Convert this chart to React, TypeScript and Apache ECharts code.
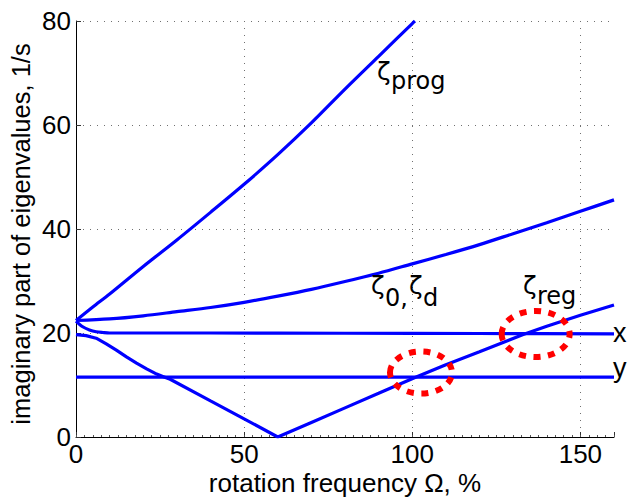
import React, { useEffect, useRef } from 'react';
import * as echarts from 'echarts';

// axis ticks
const xTicks = [0, 50, 100, 150];
const yTicks = [0, 20, 40, 60, 80];

// ζ_prog branch
const omegaProg = [0, 5, 10, 20, 30, 40, 50, 60, 70, 80, 90, 100, 100.8];
const zetaProg = [22.4, 25.0, 27.5, 32.8, 37.9, 43.2, 48.6, 54.3, 60.4, 66.9, 73.2, 79.5, 80];

// ζ_0, ζ_d branch
const omegaD = [0, 10, 20, 30, 40, 50, 60, 70, 80, 90, 100, 110, 120, 130, 140, 150, 160];
const zetaD = [22.4, 22.7, 23.3, 24.1, 24.9, 25.9, 27.1, 28.4, 29.9, 31.5, 33.3, 35.1, 37.0, 39.1, 41.2, 43.4, 45.6];

// x branch
const omegaX = [0, 2, 4, 6, 8, 10, 20, 40, 80, 120, 160];
const zetaX = [22.3, 21.2, 20.6, 20.25, 20.1, 20.0, 20.0, 20.0, 19.95, 19.9, 19.85];

// ζ_reg branch (descending then rising)
const omegaReg = [0, 3, 6, 9, 12, 15, 18, 21, 24, 26, 28, 40, 50, 60, 70, 80, 90, 101, 110, 120, 133, 140, 150, 160];
const zetaReg = [19.7, 19.5, 19.0, 17.9, 16.7, 15.4, 14.2, 13.1, 12.1, 11.6, 11.1, 6.95, 3.5, 0, 2.8, 5.6, 8.4, 11.5, 13.9, 16.4, 19.7, 21.3, 23.4, 25.4];

// y branch
const omegaY = [0, 40, 80, 120, 160];
const zetaY = [11.5, 11.5, 11.5, 11.5, 11.5];

// crossing highlights (data coords)
const crossOmega = [102.6, 136.7];
const crossZeta = [12.4, 19.8];

const SANS = '"Liberation Sans", Arial, Helvetica, sans-serif';
const DJV = '"DejaVu Sans", sans-serif';

function zip(xs: number[], ys: number[]) {
  return xs.map((x, i) => [x, ys[i]]);
}

export default function App() {
  const ref = useRef<HTMLDivElement>(null);
  useEffect(() => {
    const chart = echarts.init(ref.current!, null, { renderer: 'svg' });
    const line = (name: string, data: number[][], smooth: number | boolean) => ({
      type: 'line',
      name,
      data,
      smooth,
      symbol: 'none',
      xAxisIndex: 0,
      yAxisIndex: 0,
      lineStyle: { color: '#0000ff', width: 3.2 },
      z: 3,
    });
    const gridStyle = { color: '#707070', width: 1, type: [1, 6] as any };
    chart.setOption({
      animation: false,
      backgroundColor: '#ffffff',
      grid: { left: 76, right: 15, top: 21, bottom: 62, containLabel: false, outerBoundsMode: 'none' },
      xAxis: [
        {
          type: 'value',
          min: 0,
          max: 160,
          interval: 50,
          name: 'rotation frequency Ω, %',
          nameLocation: 'middle',
          nameGap: 35,
          nameMoveOverlap: false,
          nameTextStyle: { fontFamily: SANS, fontSize: 26, lineHeight: 22, color: '#000' },
          axisLine: { show: true, lineStyle: { color: '#000', width: 1 } },
          axisTick: { show: true, inside: true, length: 5, lineStyle: { color: '#333' } },
          axisLabel: {
            fontFamily: SANS,
            fontSize: 26,
            lineHeight: 22,
            color: '#000',
            margin: 6,
            formatter: (v: number) => (xTicks.includes(v) ? String(v) : ''),
          },
          splitLine: { show: true, showMinLine: false, showMaxLine: false, lineStyle: gridStyle },
        },
        {
          type: 'value',
          min: 0,
          max: 160,
          interval: 2.5,
          position: 'bottom',
          offset: 0,
          axisLine: { show: false },
          axisTick: { show: true, inside: true, length: 2, lineStyle: { color: '#555' } },
          axisLabel: { show: false },
          splitLine: { show: false },
        },
      ],
      yAxis: {
        type: 'value',
        min: 0,
        max: 80,
        interval: 20,
        name: 'imaginary part of eigenvalues, 1/s',
        nameLocation: 'middle',
        nameGap: 42,
        nameMoveOverlap: false,
        nameTextStyle: { fontFamily: SANS, fontSize: 25.5, color: '#000', padding: [0, 10, 0, 0] },
        axisLine: { show: true, lineStyle: { color: '#000', width: 1 } },
        axisTick: { show: true, inside: true, length: 5, lineStyle: { color: '#333' } },
        axisLabel: {
          fontFamily: SANS,
          fontSize: 26,
          color: '#000',
          margin: 5,
          formatter: (v: number) => (yTicks.includes(v) ? String(v) : ''),
        },
        splitLine: { show: true, showMinLine: false, showMaxLine: true, lineStyle: gridStyle },
      },
      series: [
        line('prog', zip(omegaProg, zetaProg), 0.3),
        line('d', zip(omegaD, zetaD), 0.3),
        line('x', zip(omegaX, zetaX), 0.3),
        line('reg', zip(omegaReg, zetaReg), false),
        line('y', zip(omegaY, zetaY), false),
      ],
    });

    const centers = crossOmega.map((o, i) =>
      chart.convertToPixel({ seriesIndex: 0 }, [o, crossZeta[i]]) as number[]
    );
    const radii = [
      [31, 21],
      [34, 23],
    ];
    const ellipses = centers.map((c, i) => ({
      type: 'ellipse',
      shape: { cx: c[0], cy: c[1], rx: radii[i][0], ry: radii[i][1] },
      style: { fill: 'none', stroke: '#ff0000', lineWidth: 6, lineDash: [7, 7.5] },
      z: 10,
    }));
    const t = (text: string, x: number, y: number, size: number, family = DJV) => ({
      type: 'text',
      x,
      y,
      style: { text, font: `${size}px ${family}`, fill: '#000', verticalAlign: 'middle', align: 'left' },
      z: 11,
    });
    chart.setOption({
      graphic: [
        ...ellipses,
        t('ζ', 377, 71, 25),
        t('prog', 391, 81, 24),
        t('ζ', 371, 285, 25),
        t('0,', 385, 298, 24),
        t('ζ', 409, 285, 25),
        t('d', 423, 298, 24),
        t('ζ', 523, 285, 25),
        t('reg', 537, 296, 24),
        t('x', 613, 333, 27, SANS),
        t('y', 613, 368, 27, SANS),
      ],
    });
    return () => chart.dispose();
  }, []);
  return <div ref={ref} style={{ position: 'absolute', left: 0, top: 0, width: 629, height: 499 }} />;
}
